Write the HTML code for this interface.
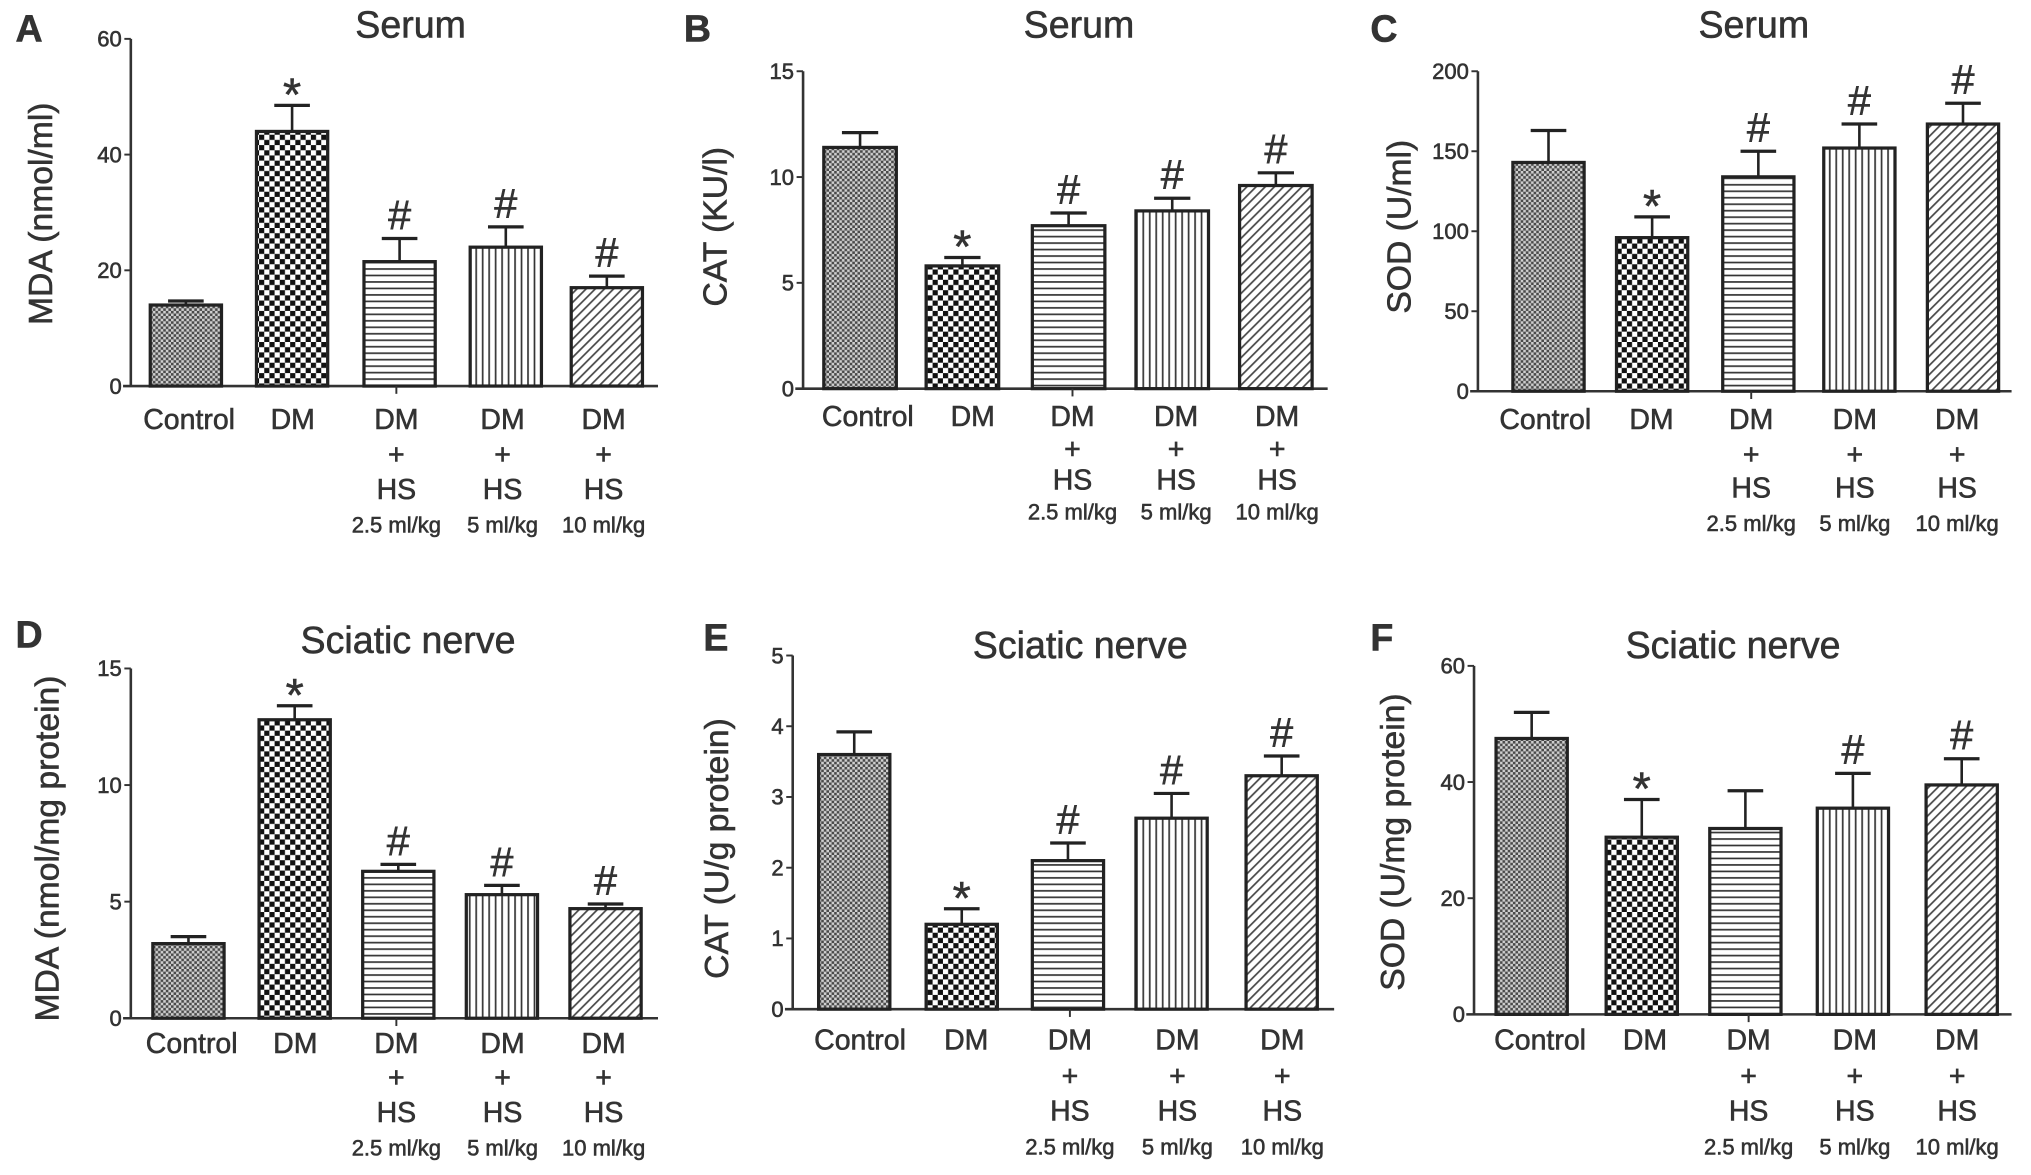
<!DOCTYPE html>
<html><head><meta charset="utf-8"><style>
html,body{margin:0;padding:0;background:#fff}
svg{display:block}
text{font-family:"Liberation Sans",sans-serif;fill:#333;stroke:#333;stroke-width:0.45}
</style></head><body>
<svg id="fig" width="2031" height="1175" viewBox="0 0 1568 907" preserveAspectRatio="none" xmlns="http://www.w3.org/2000/svg">
<defs>
<pattern id="pCtrl" width="4" height="4" patternUnits="userSpaceOnUse"><rect width="4" height="4" fill="#d0d0d0"/><rect width="2" height="2" fill="#4a4a4a"/><rect x="2" y="2" width="2" height="2" fill="#4a4a4a"/></pattern>
<pattern id="pDM" width="8" height="8" patternUnits="userSpaceOnUse"><rect width="8" height="8" fill="#fff"/><rect width="4" height="4" fill="#111"/><rect x="4" y="4" width="4" height="4" fill="#111"/></pattern>
<pattern id="pH" width="6" height="5" patternUnits="userSpaceOnUse"><rect width="6" height="5" fill="#fff"/><rect y="2" width="6" height="1.3" fill="#333"/></pattern>
<pattern id="pV" width="5" height="6" patternUnits="userSpaceOnUse"><rect width="5" height="6" fill="#fff"/><rect x="2" width="1.3" height="6" fill="#333"/></pattern>
<pattern id="pD" width="5" height="5" patternUnits="userSpaceOnUse" patternTransform="rotate(45)"><rect width="5" height="5" fill="#fff"/><rect x="2" width="1.3" height="5" fill="#444"/></pattern>
</defs>
</svg>
<script>
// group categories
const categories = ["Control","DM","DM+HS 2.5 ml/kg","DM+HS 5 ml/kg","DM+HS 10 ml/kg"];
// series values per panel
const valuesA = [14, 44, 21.5, 24, 17];
const errorsA = [0.7, 4.5, 4, 3.5, 2];
const valuesB = [11.4, 5.8, 7.7, 8.4, 9.6];
const errorsB = [0.7, 0.4, 0.6, 0.6, 0.6];
const valuesC = [143, 96, 134, 152, 167];
const errorsC = [20, 13, 16, 15, 13];
const valuesD = [3.2, 12.8, 6.3, 5.3, 4.7];
const errorsD = [0.3, 0.6, 0.3, 0.4, 0.2];
const valuesE = [3.6, 1.2, 2.1, 2.7, 3.3];
const errorsE = [0.32, 0.22, 0.25, 0.35, 0.28];
const valuesF = [47.5, 30.5, 32, 35.5, 39.5];
const errorsF = [4.5, 6.5, 6.5, 6, 4.5];
// significance marks
const marksA = ["", "*", "#", "#", "#"];
const marksB = ["", "*", "#", "#", "#"];
const marksC = ["", "*", "#", "#", "#"];
const marksD = ["", "*", "#", "#", "#"];
const marksE = ["", "*", "#", "#", "#"];
const marksF = ["", "*", "", "#", "#"];
// tick labels
const ticksA = [0, 20, 40, 60];
const ticksB = [0, 5, 10, 15];
const ticksC = [0, 50, 100, 150, 200];
const ticksD = [0, 5, 10, 15];
const ticksE = [0, 1, 2, 3, 4, 5];
const ticksF = [0, 20, 40, 60];

const NS = "http://www.w3.org/2000/svg";
const svg = document.getElementById("fig");
const fills = ["url(#pCtrl)","url(#pDM)","url(#pH)","url(#pV)","url(#pD)"];

function el(tag, attrs, parent, txt) {
  const e = document.createElementNS(NS, tag);
  for (const k in attrs) e.setAttribute(k, attrs[k]);
  if (txt !== undefined) e.textContent = txt;
  (parent || svg).appendChild(e);
  return e;
}

function panel(cfg) {
  const g = el("g", {});
  
  
  const max = cfg.ticks[cfg.ticks.length - 1];
  const y = v => cfg.y0 - (v / max) * (cfg.y0 - cfg.yTop);
  const t1 = el("text", {x: cfg.lx, y: cfg.ly, "font-size": 29, "font-weight": "bold", fill: "#111", stroke: "none"}, g, cfg.letter);
  
  
  const t2 = el("text", {x: cfg.tx, y: cfg.ty, "font-size": 29, "text-anchor": "middle"}, g, cfg.title);
  
  
  const yl = el("text", {x: 0, y: 0, "font-size": 26, "text-anchor": "middle", transform: `translate(${cfg.ylx},${cfg.yly}) rotate(-90)`}, g, cfg.ylabel);
  
  
  const ax = el("line", {x1: cfg.ax, x2: cfg.ax, y1: cfg.yTop, y2: cfg.y0, stroke: "#333", "stroke-width": 2}, g);
  
  
  const xa = el("line", {x1: cfg.ax - 6, x2: cfg.axEnd, y1: cfg.y0, y2: cfg.y0, stroke: "#333", "stroke-width": 2}, g);
  
  
  cfg.ticks.forEach(t => {
    el("line", {x1: cfg.ax - 5, x2: cfg.ax, y1: y(t), y2: y(t), stroke: "#333", "stroke-width": 1.5}, g);
    const tl = el("text", {x: cfg.ax - 7, y: y(t) + 6, "font-size": 17, "text-anchor": "end"}, g, String(t));
    
    
  });
  cfg.values.forEach((v, i) => {
    const x0 = cfg.bx[i], w = cfg.bw, cx = x0 + w / 2;
    const top = y(v), et = y(v + cfg.errors[i]);
    el("line", {x1: cx, x2: cx, y1: top, y2: et, stroke: "#222", "stroke-width": 2}, g);
    el("line", {x1: cx - w * 0.25, x2: cx + w * 0.25, y1: et, y2: et, stroke: "#222", "stroke-width": 2.5}, g);
    const r = el("rect", {x: x0, y: top, width: w, height: cfg.y0 - top, fill: fills[i], stroke: "#222", "stroke-width": 2.5}, g);
    
    
    if (cfg.marks[i]) {
      const star = cfg.marks[i] === "*";
      const m = el("text", {x: cx, y: star ? et + 4 : et - 7, "font-size": star ? 36 : 32, "text-anchor": "middle", "font-family": "Liberation Serif", "stroke-width": star ? 0.6 : 0.2}, g, cfg.marks[i]);
      
      
    }
    const lx = cfg.lxs[i];
    const lines = i === 0 ? ["Control"] : i === 1 ? ["DM"] : ["DM", "+", "HS", categories[i].split(" ").slice(1).join(" ")];
    lines.forEach((s, j) => {
      const tt = el("text", {x: lx, y: cfg.rows[j], "font-size": j === 3 ? 17 : 22, "text-anchor": "middle"}, g, s);
      
      
    });
  });
  el("line", {x1: cfg.lxs[2], x2: cfg.lxs[2], y1: cfg.y0, y2: cfg.y0 + 6, stroke: "#333", "stroke-width": 1.5}, g);
}

panel({letter:"A", lx:12, ly:32, title:"Serum", tx:317, ty:29, ylabel:"MDA (nmol/ml)", ylx:40, yly:165,
  ax:101, axEnd:508, yTop:30, y0:298, ticks:ticksA, values:valuesA, errors:errorsA, marks:marksA,
  bx:[116,198,281,363,441], bw:55, lxs:[146,226,306,388,466], rows:[331,358,385,411]});
panel({letter:"B", lx:528, ly:32, title:"Serum", tx:833, ty:29, ylabel:"CAT (KU/l)", ylx:561, yly:175,
  ax:620, axEnd:1025, yTop:55, y0:300, ticks:ticksB, values:valuesB, errors:errorsB, marks:marksB,
  bx:[636,715,797,877,957], bw:56, lxs:[670,751,828,908,986], rows:[329,354,378,401]});
panel({letter:"C", lx:1058, ly:32, title:"Serum", tx:1354, ty:29, ylabel:"SOD (U/ml)", ylx:1089, yly:175,
  ax:1141, axEnd:1553, yTop:55, y0:302, ticks:ticksC, values:valuesC, errors:errorsC, marks:marksC,
  bx:[1168,1248,1330,1408,1488], bw:55, lxs:[1193,1275,1352,1432,1511], rows:[331,358,384,410]});
panel({letter:"D", lx:12, ly:500, title:"Sciatic nerve", tx:315, ty:504, ylabel:"MDA (nmol/mg protein)", ylx:45, yly:655,
  ax:101, axEnd:508, yTop:516, y0:786, ticks:ticksD, values:valuesD, errors:errorsD, marks:marksD,
  bx:[118,200,280,360,440], bw:55, lxs:[148,228,306,388,466], rows:[813,839,866,892]});
panel({letter:"E", lx:543, ly:502, title:"Sciatic nerve", tx:834, ty:508, ylabel:"CAT  (U/g protein)", ylx:562, yly:655,
  ax:612, axEnd:1030, yTop:506, y0:779, ticks:ticksE, values:valuesE, errors:errorsE, marks:marksE,
  bx:[632,715,797,877,962], bw:55, lxs:[664,746,826,909,990], rows:[810,838,865,891]});
panel({letter:"F", lx:1058, ly:502, title:"Sciatic nerve", tx:1338, ty:508, ylabel:"SOD (U/mg protein)", ylx:1084, yly:650,
  ax:1138, axEnd:1553, yTop:514, y0:783, ticks:ticksF, values:valuesF, errors:errorsF, marks:marksF,
  bx:[1155,1240,1320,1403,1487], bw:55, lxs:[1189,1270,1350,1432,1511], rows:[810,838,865,891]});
</script>
</body></html>
